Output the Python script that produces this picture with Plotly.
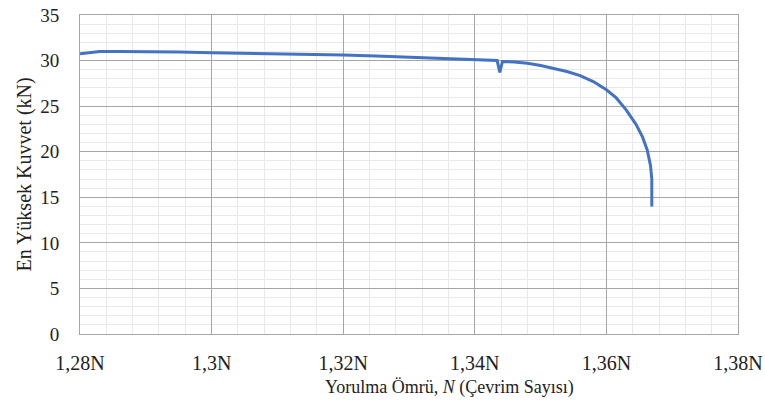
import plotly.graph_objects as go

# Fatigue test: peak force per cycle vs. fatigue life (millions of cycles)
cycles_m = [1.2800, 1.2815, 1.2830, 1.2860, 1.2900, 1.2950, 1.3000, 1.3050, 1.3100,
            1.3150, 1.3200, 1.3250, 1.3300, 1.3350, 1.3400, 1.3434, 1.3438, 1.3442,
            1.3460, 1.3480, 1.3500, 1.3520, 1.3540, 1.3560, 1.3580, 1.3600, 1.3615,
            1.3630, 1.3645, 1.3655, 1.3662, 1.3667, 1.3669, 1.3669]
peak_force_kn = [30.75, 30.85, 31.0, 31.0, 31.0, 30.95, 30.85, 30.8, 30.75,
                 30.7, 30.6, 30.5, 30.35, 30.25, 30.1, 30.0, 28.7, 29.9,
                 29.85, 29.7, 29.45, 29.15, 28.8, 28.35, 27.7, 26.8, 25.9,
                 24.6, 23.0, 21.6, 20.2, 18.5, 17.0, 14.0]

x_ticks = [1.28, 1.30, 1.32, 1.34, 1.36, 1.38]
x_tick_labels = ["1,28N", "1,3N", "1,32N", "1,34N", "1,36N", "1,38N"]
y_ticks = [0, 5, 10, 15, 20, 25, 30, 35]

serif = "'Liberation Serif', 'Times New Roman', serif"
major = "#a6a6a6"
minor = "#e9e9e9"
ink = "#222222"

fig = go.Figure()
fig.add_trace(go.Scatter(
    x=cycles_m, y=peak_force_kn, mode="lines",
    line=dict(color="#4472C4", width=3),
    showlegend=False,
))

fig.update_layout(
    width=765, height=407,
    margin=dict(l=80, r=27, t=15, b=73),
    paper_bgcolor="white", plot_bgcolor="white",
    font=dict(family=serif, color=ink),
    xaxis=dict(
        range=[1.28, 1.38], tickvals=x_ticks, ticktext=x_tick_labels,
        tickfont=dict(family=serif, size=20, color=ink),
        showgrid=True, gridcolor=major, gridwidth=1,
        minor=dict(dtick=0.004, showgrid=True, gridcolor=minor, gridwidth=1),
        ticks="outside", ticklen=11, tickcolor="rgba(0,0,0,0)",
        showline=True, linecolor=major, linewidth=1, mirror=True,
        zeroline=False, automargin=False,
    ),
    yaxis=dict(
        range=[0, 35], tickvals=y_ticks,
        tickfont=dict(family=serif, size=19, color=ink),
        showgrid=True, gridcolor=major, gridwidth=1,
        minor=dict(dtick=1, showgrid=True, gridcolor=minor, gridwidth=1),
        ticks="outside", ticklen=16, tickcolor="rgba(0,0,0,0)",
        showline=True, linecolor=major, linewidth=1, mirror=True,
        zeroline=False, automargin=False,
    ),
    annotations=[
        dict(text="Yorulma Ömrü, <i>N</i> (Çevrim Sayısı)", xref="paper", yref="paper",
             x=0.562, y=-0.128, xanchor="center", yanchor="top", showarrow=False,
             font=dict(family=serif, size=18, color=ink)),
        dict(text="En Yüksek Kuvvet (kN)", xref="paper", yref="paper",
             x=-0.085, y=0.5, xanchor="center", yanchor="middle", showarrow=False,
             textangle=-90, font=dict(family=serif, size=20, color=ink)),
    ],
)

fig.write_html("out.html")
